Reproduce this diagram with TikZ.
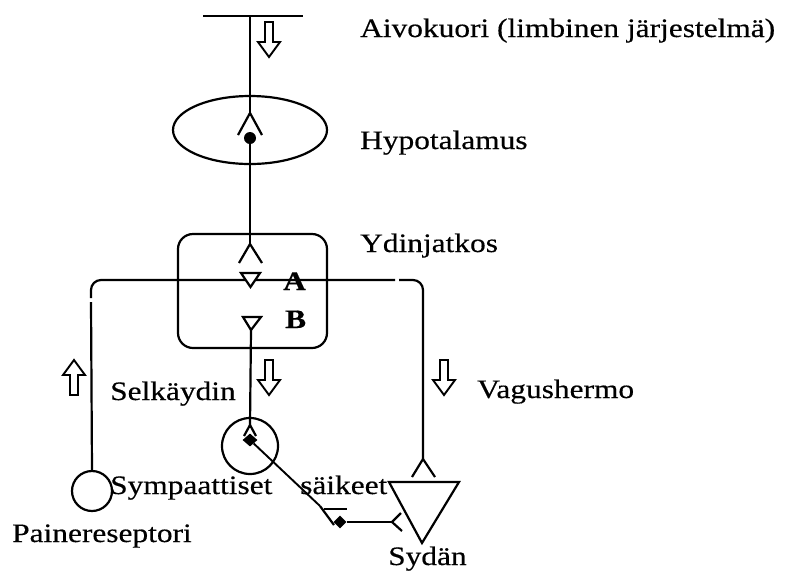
\documentclass[tikz,border=0pt]{standalone}
\usepackage{fontspec}
\setmainfont{Liberation Serif}[FakeStretch=1.18, FakeBold=0.4]
\usetikzlibrary{shapes.geometric}

\tikzset{
  wire/.style={line width=2.2pt, line cap=butt, line join=miter},
  lbl/.style={anchor=base west, inner sep=0pt, font=\fontsize{26.6}{30}\selectfont},
  bold lbl/.style={lbl, font=\fontsize{26.6}{30}\selectfont\bfseries},
  soma/.style={circle, draw, line width=2.2pt, inner sep=0pt},
  knob/.style={circle, fill, inner sep=0pt, minimum size=12pt},
  pics/hollowarrow/.style={code={
    \draw[line width=1.9pt, line join=miter]
      (-4,0) -- (4,0) -- (4,20) -- (11,20) -- (0,35) -- (-11,20) -- (-4,20) -- cycle;
  }},
}

\begin{document}
\begin{tikzpicture}[x=1pt, y=-1pt]
\useasboundingbox (0,0) rectangle (790,574);

% cortex bar and descending signal
\coordinate (ctxL) at (203,16);
\coordinate (ctxR) at (303,16);
\coordinate (ctxM) at (250,16);
\draw[wire] (ctxL) -- (ctxR);
\pic at (269,22) {hollowarrow};

% hypothalamus
\node[ellipse, draw, line width=2.2pt, minimum width=154pt, minimum height=68pt, inner sep=0pt] (hypo) at (250,130) {};
\coordinate (hypoTip) at (250,113);
\node[knob] (hypoDot) at (250,138) {};
\draw[wire] (ctxM) -- (hypoTip);
\draw[wire] (238,135) -- (hypoTip) -- (262,135);

% medulla box
\node[draw, line width=2.2pt, rounded corners=15pt, minimum width=149pt, minimum height=114pt, inner sep=0pt] (med) at (252.5,291) {};
\coordinate (medTip) at (250,244);
\draw[wire] (hypoDot) -- (medTip);
\draw[wire] (239,263) -- (medTip) -- (262,263);

% reflex loop: baroreceptor -> medulla -> vagus
\node[soma, minimum size=40pt] (baro) at (92,491) {};
\coordinate (loopL) at (91,280);
\coordinate (loopR) at (423,280);
\coordinate (vagTip) at (423,459);
\draw[wire] (baro.north) -- (91,302);
\draw[wire, rounded corners=10pt] (91,298) -- (loopL) -- (395,280);
\draw[wire, rounded corners=10pt] (399,280) -- (loopR) -- (vagTip);
\draw[wire] (412,477) -- (vagTip) -- (435,477);
\pic[rotate=180] at (74,395) {hollowarrow};
\pic at (444,360) {hollowarrow};

% nuclei A and B
\draw[wire, fill=white] (241,273) -- (260,273) -- (250.5,287) -- cycle;
\coordinate (tipB) at (251,330);
\draw[wire] (243,317) -- (261,317) -- (tipB) -- cycle;
\node[bold lbl] (labA) at (283,290) {A};
\node[bold lbl] (labB) at (285,328) {B};

% spinal cord ganglion and sympathetic fibre
\pic at (269,360) {hollowarrow};
\node[soma, minimum size=56pt] (gang) at (250,446) {};
\coordinate (gangTip) at (250,425);
\draw[wire] (tipB) -- (gangTip);
\draw[wire] (244,436) -- (gangTip) -- (256,436);
\node[diamond, fill, inner sep=0pt, minimum width=15pt, minimum height=13pt] (gangDot) at (250,440) {};
\coordinate (symEnd) at (320,506);
\draw[wire, line width=1.9pt] (gangDot) -- (symEnd);
\draw[wire] (symEnd) -- (334,525);
\draw[wire] (324,509) -- (347,509);
\node[diamond, fill, inner sep=0pt, minimum width=13pt, minimum height=13pt] (symDot) at (340,522) {};

% heart
\coordinate (hA) at (389,482);
\coordinate (hB) at (459,482);
\coordinate (hC) at (422,543);
\draw[wire] (hA) -- (hB) -- (hC) -- cycle;
\coordinate (heartTip) at (392,522);
\draw[wire] (symDot) -- (heartTip);
\draw[wire] (401,513) -- (heartTip) -- (402,531);

% labels
\node[lbl] (tCtx) at (360,37) {Aivokuori (limbinen järjestelmä)};
\node[lbl] (tHypo) at (360,149) {Hypotalamus};
\node[lbl] (tMed) at (360,252) {Ydinjatkos};
\node[lbl] (tSel) at (110,400) {Selkäydin};
\node[lbl] (tVag) at (477,398) {Vagushermo};
\node[lbl] (tSym) at (110,494) {Sympaattiset};
\node[lbl] (tSai) at (300,494) {säikeet};
\node[lbl] (tBaro) at (12,542) {Painereseptori};
\node[lbl] (tHeart) at (388,565) {Sydän};
\end{tikzpicture}
\end{document}
